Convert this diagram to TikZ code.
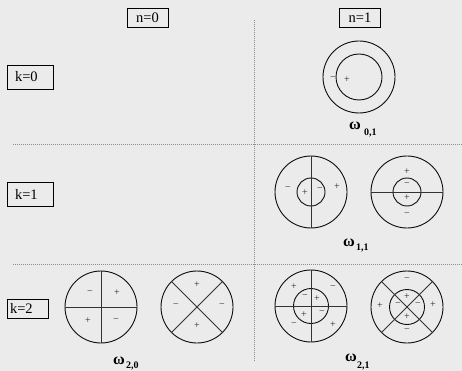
\documentclass[tikz,border=0pt]{standalone}
\usepackage{fontspec}
\setmainfont{Liberation Serif}
\usepackage{tikz}
\usetikzlibrary{positioning}
\colorlet{bgpanel}{black!8}
\colorlet{ringcol}{black!95}
\colorlet{diamcol}{black!80}
\colorlet{sepcol}{black!45}

\tikzset{
  bigring/.style={circle, draw=ringcol, line width=0.9pt, minimum size=72pt, inner sep=0pt},
  smallring/.style={circle, draw=ringcol, line width=0.9pt, inner sep=0pt},
  diam/.style={draw=diamcol, line width=1pt},
  signtxt/.style={inner sep=0pt, text=black!85, font=\fontsize{10}{10}\selectfont},
  collab/.style={draw, line width=0.6pt, minimum width=41pt, minimum height=19pt, inner sep=0pt, font=\fontsize{14.5}{15}\selectfont},
  rowlab/.style={draw, line width=0.6pt, minimum height=24pt, text width=30pt, inner xsep=8pt, inner ysep=0pt, align=left, font=\fontsize{14.5}{15}\selectfont},
  omsym/.style={inner sep=0pt, anchor=west, font=\fontsize{16}{16}\selectfont\bfseries},
  omsub/.style={inner sep=0pt, anchor=west, font=\fontsize{10}{10}\selectfont\bfseries},
  sepline/.style={draw=sepcol, line width=0.8pt, dash pattern=on 1pt off 1pt}
}

\begin{document}
\begin{tikzpicture}[x=1pt, y=-1pt]
    \fill[bgpanel] (0,0) rectangle (462,371);
    \useasboundingbox (0,0) rectangle (462,371);

    % column and row labels
    \node[collab] (n0) at (147.5,17.5) {n=0};
    \node[collab] (n1) at (360,17.5) {n=1};
    \node[rowlab] (k0) at (30,77) {k=0};
    \node[rowlab] (k1) at (30,194) {k=1};
    \node[rowlab, minimum height=19pt, text width=35pt, inner xsep=3pt] (k2) at (27.5,308.5) {k=2};

    % separators
    \draw[sepline] (254,20) -- (254,361);
    \draw[sepline] (13,144) -- (462,144);
    \draw[sepline] (13,264) -- (462,264);

    % k=0, n=1
    \node[bigring] (r01) at (359,77) {};
    \node[smallring, minimum size=46pt] (r01i) at (r01) {};
    \node[signtxt] (s01a) at ([shift={(-26,2)}]r01.center) {−};
    \node[signtxt] (s01b) at ([shift={(-12,3)}]r01.center) {+};
    \node[omsym] (w01) at (349,125.5) {ω};
    \node[omsub] (w01s) at (364,132.5) {0,1};

    % k=1, n=1
    \node[bigring] (r11a) at (311,192) {};
    \node[smallring, minimum size=28pt] (r11ai) at (r11a) {};
    \draw[diam] (r11a.north) -- (r11a.south);
    \node[signtxt] (s11a) at ([shift={(-23,-3)}]r11a.center) {−};
    \node[signtxt] (s11b) at ([shift={(-6,1)}]r11a.center) {+};
    \node[signtxt] (s11c) at ([shift={(9,-2)}]r11a.center) {−};
    \node[signtxt] (s11d) at ([shift={(26,-5)}]r11a.center) {+};

    \node[bigring] (r11b) at (407,192) {};
    \node[smallring, minimum size=28pt] (r11bi) at (r11b) {};
    \draw[diam] (r11b.west) -- (r11b.east);
    \node[signtxt] (s11e) at ([shift={(0,-20)}]r11b.center) {+};
    \node[signtxt] (s11f) at ([shift={(0,-7)}]r11b.center) {−};
    \node[signtxt] (s11g) at ([shift={(0,6)}]r11b.center) {+};
    \node[signtxt] (s11h) at ([shift={(0,23)}]r11b.center) {−};
    \node[omsym] (w11) at (343,242.5) {ω};
    \node[omsub] (w11s) at (356,248) {1,1};

    % k=2, n=0
    \node[bigring] (r20a) at (101,307) {};
    \draw[diam] (r20a.north) -- (r20a.south);
    \draw[diam] (r20a.west) -- (r20a.east);
    \node[signtxt] (s20a) at ([shift={(-11,-14)}]r20a.center) {−};
    \node[signtxt] (s20b) at ([shift={(16,-14)}]r20a.center) {+};
    \node[signtxt] (s20c) at ([shift={(-13,14)}]r20a.center) {+};
    \node[signtxt] (s20d) at ([shift={(15,14)}]r20a.center) {−};

    \node[bigring] (r20b) at (197,307) {};
    \draw[diam] (r20b.135) -- (r20b.-45);
    \draw[diam] (r20b.45) -- (r20b.-135);
    \node[signtxt] (s20e) at ([shift={(0,-22)}]r20b.center) {+};
    \node[signtxt] (s20f) at ([shift={(-21,-1)}]r20b.center) {−};
    \node[signtxt] (s20g) at ([shift={(25,-1)}]r20b.center) {−};
    \node[signtxt] (s20h) at ([shift={(0,19)}]r20b.center) {+};
    \node[omsym] (w20) at (113,360.5) {ω};
    \node[omsub] (w20s) at (126,366) {2,0};

    % k=2, n=1
    \node[bigring] (r21a) at (311,306) {};
    \node[smallring, minimum size=35pt] (r21ai) at (r21a) {};
    \draw[diam] (r21a.north) -- (r21a.south);
    \draw[diam] (r21a.west) -- (r21a.east);
    \node[signtxt] (s21a) at ([shift={(-17,-19)}]r21a.center) {+};
    \node[signtxt] (s21b) at ([shift={(22,-18)}]r21a.center) {−};
    \node[signtxt] (s21c) at ([shift={(-17,19)}]r21a.center) {−};
    \node[signtxt] (s21d) at ([shift={(22,19)}]r21a.center) {+};
    \node[signtxt] (s21e) at ([shift={(-6,-9)}]r21a.center) {−};
    \node[signtxt] (s21f) at ([shift={(6,-7)}]r21a.center) {+};
    \node[signtxt] (s21g) at ([shift={(-7,9)}]r21a.center) {+};
    \node[signtxt] (s21h) at ([shift={(11,7)}]r21a.center) {−};

    \node[bigring] (r21b) at (407,307) {};
    \node[smallring, minimum size=35pt] (r21bi) at (r21b) {};
    \draw[diam] (r21b.135) -- (r21b.-45);
    \draw[diam] (r21b.45) -- (r21b.-135);
    \node[signtxt] (s21i) at ([shift={(0,-27)}]r21b.center) {−};
    \node[signtxt] (s21j) at ([shift={(0,-10)}]r21b.center) {+};
    \node[signtxt] (s21k) at ([shift={(-9,-2)}]r21b.center) {−};
    \node[signtxt] (s21l) at ([shift={(11,-2)}]r21b.center) {−};
    \node[signtxt] (s21m) at ([shift={(-27,-1)}]r21b.center) {+};
    \node[signtxt] (s21n) at ([shift={(26,-2)}]r21b.center) {+};
    \node[signtxt] (s21o) at ([shift={(0,10)}]r21b.center) {+};
    \node[signtxt] (s21p) at ([shift={(0,24)}]r21b.center) {−};
    \node[omsym] (w21) at (345,358) {ω};
    \node[omsub] (w21s) at (357,365.5) {2,1};
\end{tikzpicture}
\end{document}
